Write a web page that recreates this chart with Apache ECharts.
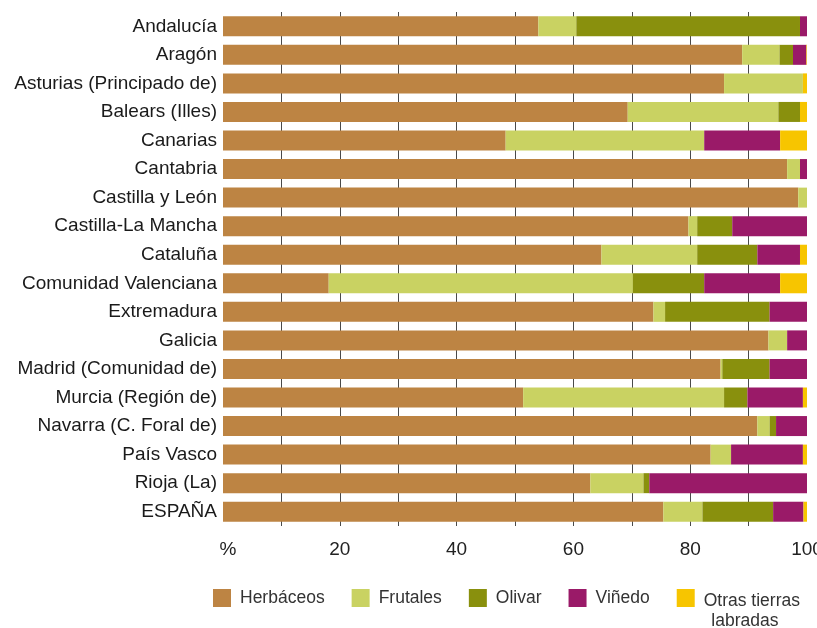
<!DOCTYPE html>
<html>
<head>
<meta charset="utf-8">
<script src="https://cdn.jsdelivr.net/npm/echarts@6/dist/echarts.min.js"></script>
<style>
  html, body { margin: 0; padding: 0; background: #fff; }
  #chart { width: 817px; height: 628px; }
</style>
</head>
<body>
<div id="chart"></div>
<script>
// Regions (top to bottom) and share of cultivated land by crop type (%)
const regions = [
  'Andalucía', 'Aragón', 'Asturias (Principado de)', 'Balears (Illes)', 'Canarias',
  'Cantabria', 'Castilla y León', 'Castilla-La Mancha', 'Cataluña', 'Comunidad Valenciana',
  'Extremadura', 'Galicia', 'Madrid (Comunidad de)', 'Murcia (Región de)',
  'Navarra (C. Foral de)', 'País Vasco', 'Rioja (La)', 'ESPAÑA'
];
const herbaceos = [54.0, 88.9, 85.8, 69.3, 48.4, 96.6, 98.5, 79.7, 64.8, 18.1, 73.7, 93.4, 85.2, 51.4, 91.5, 83.5, 62.9, 75.4];
const frutales  = [ 6.5,  6.4, 13.5, 25.8, 34.0,  2.2,  1.5,  1.5, 16.4, 52.1,  2.0,  3.2,  0.3, 34.4,  2.1,  3.5,  9.1,  6.7];
const olivar    = [38.3,  2.3,  0.0,  3.7,  0.0,  0.0,  0.0,  6.0, 10.3, 12.2, 17.9,  0.0,  8.1,  4.0,  1.1,  0.0,  1.0, 12.1];
const vinedo    = [ 1.2,  2.3,  0.0,  0.0, 13.0,  1.2,  0.0, 12.8,  7.3, 13.0,  6.4,  3.4,  6.4,  9.5,  5.3, 12.3, 27.0,  5.2];
const otras     = [ 0.0,  0.1,  0.7,  1.2,  4.6,  0.0,  0.0,  0.0,  1.2,  4.6,  0.0,  0.0,  0.0,  0.7,  0.0,  0.7,  0.0,  0.6];

const seriesNames = ['Herbáceos', 'Frutales', 'Olivar', 'Viñedo', 'Otras tierras labradas'];
const seriesColors = ['#BD8443', '#C9D262', '#89900D', '#9A1A68', '#F7C500'];
const xTicks = { min: 0, max: 100, step: 10 };

const FONT = 'Liberation Sans';
const chart = echarts.init(document.getElementById('chart'), null, { renderer: 'canvas' });

const values = [herbaceos, frutales, olivar, vinedo, otras];

chart.setOption({
  animation: false,
  backgroundColor: '#ffffff',
  grid: { left: 223, right: 10, top: 12, bottom: 102, containLabel: false, outerBoundsMode: 'none' },
  xAxis: {
    type: 'value',
    min: xTicks.min,
    max: xTicks.max,
    interval: xTicks.step,
    axisLine: { show: false },
    axisTick: { show: false },
    splitLine: { show: true, showMinLine: false, showMaxLine: false, lineStyle: { color: '#4a4a4a', width: 1 } },
    axisLabel: {
      margin: 14,
      color: '#222',
      fontFamily: FONT,
      fontSize: 19,
      rich: {
        pct: { fontFamily: FONT, fontSize: 19, color: '#222', padding: [0, 0, 0, 10] }
      },
      formatter: function (v) {
        // the zero position carries the unit instead of a number
        if (v === 0) return '{pct|%}';
        return v % 20 === 0 ? String(v) : '';
      }
    }
  },
  yAxis: {
    type: 'category',
    data: regions,
    inverse: true,
    axisLine: { show: false },
    axisTick: { show: false },
    splitLine: { show: false },
    axisLabel: { margin: 6, color: '#1a1a1a', fontFamily: FONT, fontSize: 19 }
  },
  legend: {
    left: 208,
    top: 560,
    itemWidth: 18,
    itemHeight: 18,
    itemGap: 27,
    icon: 'rect',
    textStyle: {
      color: '#333', fontFamily: FONT, fontSize: 17.5, lineHeight: 20, padding: [0, 0, 0, 4],
      rich: {
        gap: { fontFamily: FONT, fontSize: 17.5, lineHeight: 26 },
        l1: { fontFamily: FONT, fontSize: 17.5, color: '#333', lineHeight: 20 },
        l2: { fontFamily: FONT, fontSize: 17.5, color: '#333', lineHeight: 20, align: 'center', padding: [0, 14, 0, 0] }
      }
    },
    formatter: function (name) {
      // last entry wraps onto a second line below the swatch row
      return name === 'Otras tierras labradas' ? '{gap| }\n{l1|Otras tierras}\n{l2|labradas}' : name;
    },
    data: seriesNames
  },
  series: seriesNames.map(function (name, i) {
    return {
      name: name,
      type: 'bar',
      stack: 'total',
      barWidth: 20,
      itemStyle: { color: seriesColors[i] },
      emphasis: { disabled: true },
      data: values[i]
    };
  })
});
</script>
</body>
</html>
